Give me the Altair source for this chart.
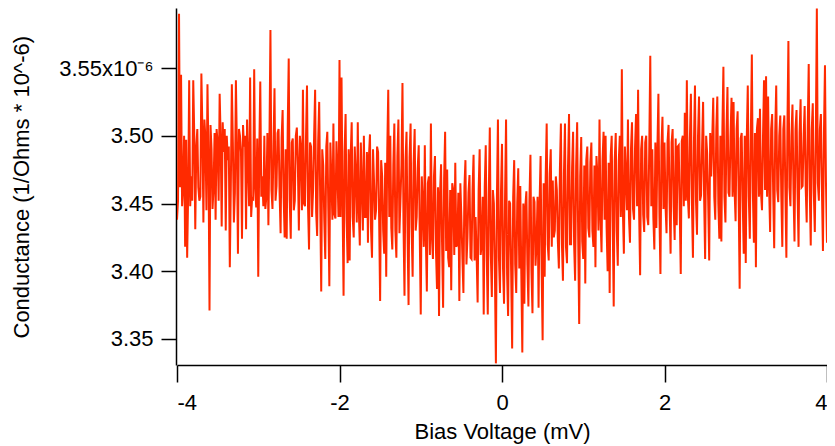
import altair as alt
import pandas as pd

# Conductance (units of 1e-6 1/Ohm).
# "conductance" holds the samples at -4, -3.975, ... 4 mV (every 0.025 mV);
# "conductance_mid" holds the samples that sit half-way between them.
conductance = [
    3.438, 3.590, 3.545, 3.462, 3.418, 3.410, 3.541, 3.470, 3.541, 3.431,
    3.505, 3.452, 3.546, 3.436, 3.498, 3.538, 3.371, 3.490, 3.462, 3.438,
    3.495, 3.531, 3.433, 3.488, 3.430, 3.482, 3.403, 3.538, 3.436, 3.541,
    3.413, 3.500, 3.424, 3.492, 3.431, 3.478, 3.543, 3.455, 3.549, 3.447,
    3.396, 3.540, 3.470, 3.500, 3.455, 3.434, 3.578, 3.446, 3.535, 3.463,
    3.505, 3.428, 3.519, 3.425, 3.424, 3.557, 3.424, 3.498, 3.452, 3.506,
    3.430, 3.490, 3.534, 3.448, 3.537, 3.416, 3.492, 3.460, 3.534, 3.426,
    3.525, 3.385, 3.478, 3.409, 3.503, 3.389, 3.468, 3.509, 3.439, 3.472,
    3.556, 3.543, 3.382, 3.516, 3.406, 3.408, 3.510, 3.425, 3.470, 3.510,
    3.419, 3.462, 3.500, 3.440, 3.421, 3.501, 3.410, 3.466, 3.445, 3.488,
    3.378, 3.470, 3.413, 3.396, 3.534, 3.500, 3.416, 3.509, 3.410, 3.512,
    3.452, 3.539, 3.382, 3.503, 3.375, 3.509, 3.396, 3.505, 3.440, 3.493,
    3.368, 3.450, 3.493, 3.385, 3.470, 3.509, 3.409, 3.485, 3.387, 3.367,
    3.479, 3.373, 3.503, 3.475, 3.403, 3.386, 3.460, 3.480, 3.420, 3.378,
    3.440, 3.384, 3.482, 3.425, 3.471, 3.409, 3.486, 3.440, 3.377, 3.490,
    3.420, 3.368, 3.493, 3.368, 3.506, 3.381, 3.450, 3.332, 3.512, 3.384,
    3.494, 3.376, 3.512, 3.367, 3.450, 3.343, 3.482, 3.384, 3.476, 3.463,
    3.340, 3.376, 3.459, 3.374, 3.486, 3.369, 3.451, 3.420, 3.373, 3.485,
    3.349, 3.396, 3.509, 3.408, 3.490, 3.467, 3.430, 3.460, 3.402, 3.509,
    3.393, 3.509, 3.406, 3.516, 3.420, 3.503, 3.393, 3.510, 3.361, 3.499,
    3.409, 3.391, 3.492, 3.425, 3.495, 3.418, 3.403, 3.470, 3.512, 3.414,
    3.503, 3.500, 3.400, 3.384, 3.500, 3.374, 3.502, 3.404, 3.500, 3.549,
    3.413, 3.470, 3.512, 3.421, 3.510, 3.438, 3.516, 3.534, 3.397, 3.500,
    3.429, 3.500, 3.434, 3.559, 3.490, 3.416, 3.432, 3.531, 3.398, 3.514,
    3.495, 3.428, 3.508, 3.413, 3.505, 3.423, 3.434, 3.493, 3.398, 3.500,
    3.517, 3.541, 3.439, 3.531, 3.410, 3.537, 3.427, 3.529, 3.456, 3.525,
    3.409, 3.487, 3.408, 3.470, 3.528, 3.438, 3.529, 3.424, 3.422, 3.551,
    3.436, 3.536, 3.455, 3.528, 3.525, 3.437, 3.518, 3.387, 3.502, 3.413,
    3.406, 3.537, 3.424, 3.560, 3.421, 3.403, 3.513, 3.520, 3.445, 3.541,
    3.544, 3.529, 3.429, 3.516, 3.417, 3.537, 3.451, 3.515, 3.418, 3.515,
    3.410, 3.570, 3.448, 3.523, 3.422, 3.519, 3.418, 3.527, 3.463, 3.522,
    3.436, 3.553, 3.419, 3.524, 3.429, 3.594, 3.452, 3.516, 3.415, 3.552,
    3.421,
]
conductance_mid = [
    3.452, 3.462, 3.448, 3.500, 3.497, 3.458, 3.448, 3.452, 3.500, 3.492,
    3.462, 3.455, 3.505, 3.512, 3.445, 3.485, 3.508, 3.446, 3.502, 3.505,
    3.452, 3.498, 3.510, 3.505, 3.500, 3.492, 3.462, 3.495, 3.458, 3.490,
    3.505, 3.488, 3.508, 3.500, 3.512, 3.448, 3.440, 3.452, 3.462, 3.498,
    3.488, 3.455, 3.448, 3.446, 3.502, 3.495, 3.460, 3.492, 3.452, 3.502,
    3.458, 3.498, 3.455, 3.490, 3.505, 3.452, 3.495, 3.445, 3.500, 3.478,
    3.500, 3.445, 3.450, 3.498, 3.448, 3.495, 3.440, 3.500, 3.444, 3.496,
    3.452, 3.490, 3.438, 3.492, 3.445, 3.495, 3.438, 3.442, 3.496, 3.440,
    3.440, 3.452, 3.488, 3.438, 3.490, 3.485, 3.440, 3.492, 3.436, 3.445,
    3.495, 3.430, 3.440, 3.488, 3.485, 3.432, 3.490, 3.438, 3.492, 3.440,
    3.482, 3.430, 3.480, 3.488, 3.440, 3.432, 3.478, 3.430, 3.485, 3.428,
    3.478, 3.435, 3.482, 3.428, 3.484, 3.432, 3.480, 3.430, 3.476, 3.428,
    3.470, 3.418, 3.425, 3.465, 3.412, 3.425, 3.470, 3.415, 3.462, 3.458,
    3.420, 3.468, 3.415, 3.410, 3.460, 3.465, 3.412, 3.418, 3.458, 3.465,
    3.410, 3.462, 3.405, 3.458, 3.410, 3.460, 3.408, 3.412, 3.460, 3.412,
    3.455, 3.462, 3.410, 3.458, 3.412, 3.460, 3.400, 3.455, 3.410, 3.458,
    3.402, 3.455, 3.398, 3.452, 3.400, 3.455, 3.405, 3.450, 3.402, 3.398,
    3.450, 3.448, 3.405, 3.452, 3.400, 3.455, 3.404, 3.455, 3.450, 3.402,
    3.465, 3.470, 3.420, 3.472, 3.418, 3.425, 3.470, 3.422, 3.475, 3.420,
    3.472, 3.418, 3.478, 3.420, 3.476, 3.420, 3.478, 3.425, 3.470, 3.422,
    3.478, 3.482, 3.432, 3.480, 3.430, 3.478, 3.485, 3.430, 3.440, 3.482,
    3.438, 3.432, 3.480, 3.485, 3.436, 3.482, 3.430, 3.482, 3.440, 3.445,
    3.492, 3.445, 3.440, 3.490, 3.446, 3.492, 3.448, 3.445, 3.490, 3.442,
    3.495, 3.440, 3.492, 3.448, 3.440, 3.495, 3.490, 3.442, 3.492, 3.446,
    3.448, 3.496, 3.450, 3.495, 3.448, 3.498, 3.492, 3.445, 3.496, 3.448,
    3.452, 3.455, 3.498, 3.450, 3.495, 3.452, 3.500, 3.452, 3.492, 3.455,
    3.500, 3.452, 3.502, 3.498, 3.455, 3.505, 3.450, 3.500, 3.505, 3.455,
    3.502, 3.458, 3.500, 3.455, 3.460, 3.505, 3.455, 3.498, 3.452, 3.500,
    3.498, 3.455, 3.500, 3.458, 3.502, 3.505, 3.455, 3.458, 3.500, 3.460,
    3.455, 3.462, 3.505, 3.458, 3.502, 3.460, 3.500, 3.456, 3.505, 3.460,
    3.505, 3.462, 3.500, 3.460, 3.505, 3.458, 3.502, 3.462, 3.500, 3.462,
    3.505, 3.460, 3.505, 3.458, 3.500, 3.465, 3.505, 3.460, 3.502, 3.465,
]
bias_start = -4.0
bias_step = 0.025

x_ticks = [-4, -2, 0, 2, 4]
y_ticks = [3.35, 3.40, 3.45, 3.50, 3.55]
x_domain = [-4, 4]
y_domain = [3.3308, 3.5943]

rows = []
for i, g in enumerate(conductance):
    rows.append({"bias": bias_start + bias_step * i, "g": g})
    if i < len(conductance_mid):
        rows.append({"bias": bias_start + bias_step * (i + 0.5), "g": conductance_mid[i]})
df = pd.DataFrame(rows)

FONT = "Liberation Sans"

chart = (
    alt.Chart(df)
    .mark_line(color="#ff2a00", strokeWidth=2, clip=True)
    .encode(
        x=alt.X(
            "bias:Q",
            scale=alt.Scale(domain=x_domain, nice=False, zero=False),
            axis=alt.Axis(
                values=x_ticks,
                title="Bias Voltage (mV)",
                grid=False,
                labelExpr="datum.value < 0 ? '-' + format(-datum.value, 'd') : format(datum.value, 'd')",
                tickSize=17,
                tickWidth=1.5,
                domainWidth=1.5,
                labelPadding=10,
                titlePadding=8,
                titleFontSize=22,
            ),
        ),
        y=alt.Y(
            "g:Q",
            scale=alt.Scale(domain=y_domain, nice=False, zero=False),
            axis=alt.Axis(
                values=y_ticks,
                title="Conductance (1/Ohms * 10^-6)",
                grid=False,
                tickSize=15,
                tickWidth=1.5,
                domainWidth=1.5,
                labelPadding=8,
                offset=1,
                labelExpr="datum.value > 3.549 ? format(datum.value, '.2f') + 'x10⁻⁶' : format(datum.value, '.2f')",
                titleAngle=-90,
                titleAlign="left",
                titleBaseline="middle",
                titleFontSize=22,
                titleX=-155,
                titleY=330,
            ),
        ),
    )
    .properties(
        width=650,
        height=357,
        autosize=alt.AutoSizeParams(type="none"),
        padding={"left": 169, "top": 0, "right": 0, "bottom": 81},
    )
    .configure_view(stroke=None)
    .configure_axis(
        labelFont=FONT,
        titleFont=FONT,
        labelFontSize=22,
        labelColor="#000000",
        titleColor="#000000",
        domainColor="#000000",
        tickColor="#000000",
        titleFontWeight="normal",
    )
)

chart.save("out.html", embed_options={"renderer": "svg", "actions": False})
